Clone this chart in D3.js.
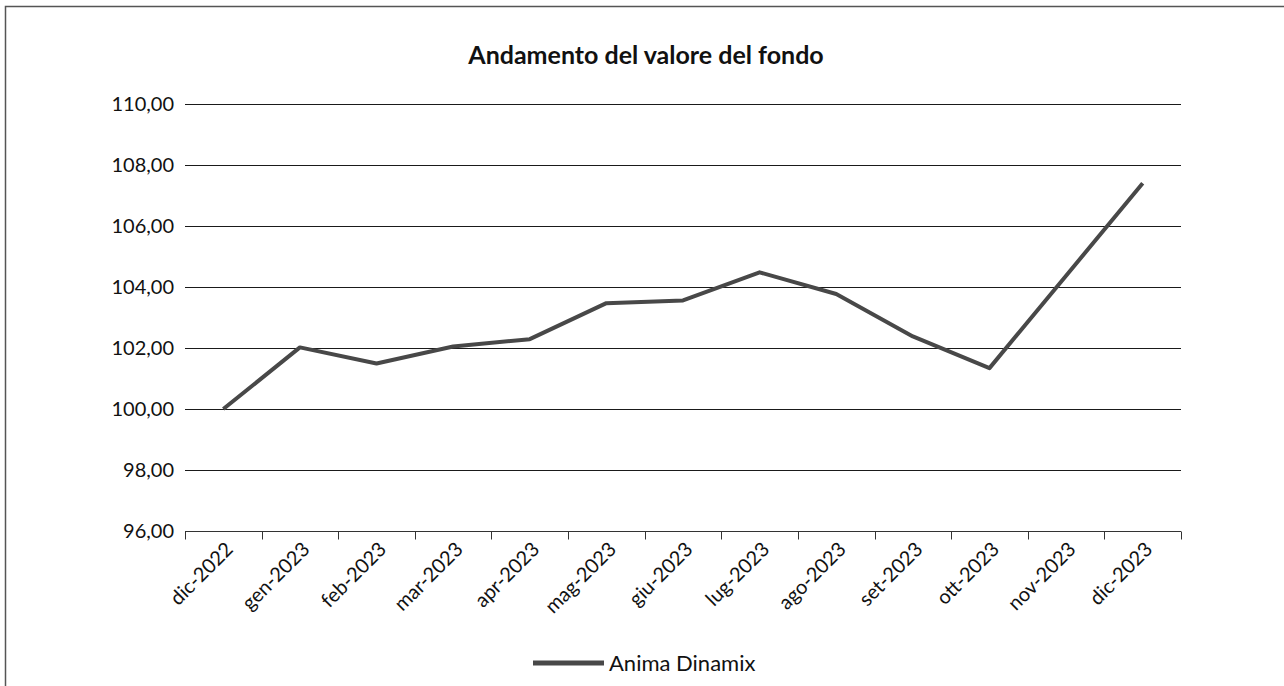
<!DOCTYPE html>
<html>
<head>
  <title>Andamento del valore del fondo</title>
  <script src="https://d3js.org/d3.v7.min.js"></script>
  <style>
    body { margin: 0; background: #fff; }
    svg { font-family: Lato, "Open Sans", sans-serif; }
  </style>
</head>
<body>
  <div id="chart"></div>

  <script>
    // dati
    const months = ["dic-2022", "gen-2023", "feb-2023", "mar-2023", "apr-2023", "mag-2023", "giu-2023",
                    "lug-2023", "ago-2023", "set-2023", "ott-2023", "nov-2023", "dic-2023"];
    const values = [100.00, 102.02, 101.49, 102.05, 102.29, 103.47, 103.56,
                    104.48, 103.77, 102.38, 101.34, 104.37, 107.40];
    const yTicks = [96, 98, 100, 102, 104, 106, 108, 110];
    const seriesName = "Anima Dinamix";

    const W = 1284, H = 686;
    const margin = { top: 104, right: 103, bottom: 155, left: 185 };
    const width = W - margin.left - margin.right;
    const height = H - margin.top - margin.bottom;

    const itLocale = d3.formatLocale({ decimal: ",", thousands: ".", grouping: [3], currency: ["€", ""] });
    const fmt = itLocale.format(".2f");

    const svg = d3.select("#chart")
      .append("svg")
      .attr("width", W)
      .attr("height", H);

    // bordo esterno
    svg.append("rect")
      .attr("x", 5.5)
      .attr("y", 6.5)
      .attr("width", W + 20)
      .attr("height", H + 20)
      .attr("fill", "none")
      .attr("stroke", "#555")
      .attr("stroke-width", 1.5);

    svg.append("text")
      .attr("x", 646)
      .attr("y", 64)
      .attr("text-anchor", "middle")
      .attr("font-size", 25)
      .attr("font-weight", "bold")
      .attr("fill", "#111")
      .text("Andamento del valore del fondo");

    const g = svg.append("g")
      .attr("transform", `translate(${margin.left},${margin.top})`);

    const xScale = d3.scaleBand()
      .domain(months)
      .range([0, width])
      .padding(0);

    const yScale = d3.scaleLinear()
      .domain([96, 110])
      .range([height, 0]);

    // griglia orizzontale
    g.append("g")
      .selectAll("line")
      .data(yTicks.filter(d => d !== 96))
      .enter().append("line")
      .attr("x1", 0)
      .attr("x2", width)
      .attr("y1", d => Math.round(yScale(d)) + 0.5)
      .attr("y2", d => Math.round(yScale(d)) + 0.5)
      .attr("stroke", "#1a1a1a")
      .attr("stroke-width", 1);

    // asse y
    const yAxis = d3.axisLeft(yScale)
      .tickValues(yTicks)
      .tickFormat(fmt)
      .tickSize(0)
      .tickPadding(11);

    g.append("g")
      .attr("class", "y axis")
      .call(yAxis)
      .call(s => s.select(".domain").remove())
      .selectAll("text")
      .attr("font-size", 20)
      .attr("font-family", "Lato, sans-serif")
      .attr("fill", "#111");

    // asse x
    const xAxisG = g.append("g")
      .attr("class", "x axis")
      .attr("transform", `translate(0,${Math.round(height) + 0.5})`);

    xAxisG.append("line")
      .attr("x1", 0)
      .attr("x2", width)
      .attr("stroke", "#333");

    const boundaries = months.map(m => xScale(m)).concat([width]);
    xAxisG.selectAll(".tick-mark")
      .data(boundaries)
      .enter().append("line")
      .attr("class", "tick-mark")
      .attr("x1", d => Math.round(d) + 0.5)
      .attr("x2", d => Math.round(d) + 0.5)
      .attr("y1", 0)
      .attr("y2", 8)
      .attr("stroke", "#333");

    xAxisG.selectAll(".xlabel")
      .data(months)
      .enter().append("text")
      .attr("class", "xlabel")
      .attr("transform", d => `translate(${xScale(d) + xScale.bandwidth() / 2 + 11},${19}) rotate(-45)`)
      .attr("text-anchor", "end")
      .attr("font-size", 20)
      .attr("fill", "#111")
      .text(d => d);

    // linea della serie
    const line = d3.line()
      .x((d, i) => xScale(months[i]) + xScale.bandwidth() / 2)
      .y(d => yScale(d));

    g.append("path")
      .datum(values)
      .attr("fill", "none")
      .attr("stroke", "#484848")
      .attr("stroke-width", 4)
      .attr("stroke-linejoin", "round")
      .attr("d", line);

    // legenda
    const legend = svg.append("g")
      .attr("transform", "translate(533,663)");

    legend.append("line")
      .attr("x1", 0)
      .attr("x2", 71)
      .attr("stroke", "#484848")
      .attr("stroke-width", 5);

    legend.append("text")
      .attr("x", 76)
      .attr("y", 8)
      .attr("font-size", 22)
      .attr("fill", "#111")
      .text(seriesName);
  </script>
</body>
</html>
